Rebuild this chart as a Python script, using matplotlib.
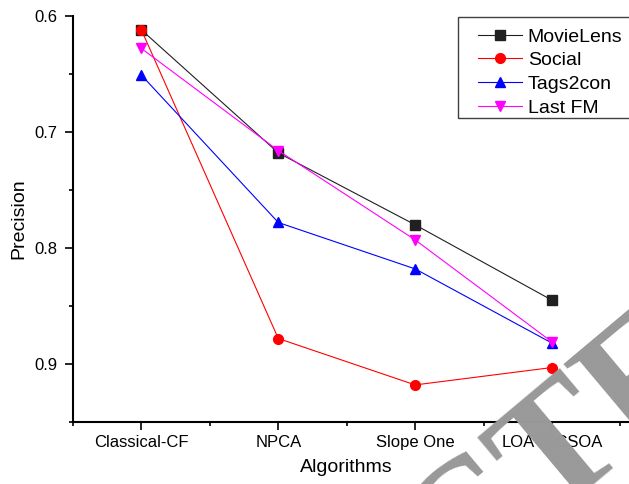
import matplotlib.pyplot as plt
from matplotlib.patches import Rectangle
from matplotlib.ticker import FixedLocator, MultipleLocator

plt.rcParams['font.family'] = ['Liberation Sans', 'DejaVu Sans']

algorithms = ['Classical-CF', 'NPCA', 'Slope One', 'LOA-ISCSOA']
movielens = [0.612, 0.718, 0.780, 0.845]
social = [0.612, 0.878, 0.918, 0.903]
tags2con = [0.651, 0.778, 0.818, 0.882]
last_fm = [0.628, 0.716, 0.793, 0.881]

series = [
    ('MovieLens', movielens, '#202020', 's'),
    ('Social', social, '#ff0000', 'o'),
    ('Tags2con', tags2con, '#0000ff', '^'),
    ('Last FM', last_fm, '#ff00ff', 'v'),
]

W, H = 629, 484


def precision_plot():
    fig = plt.figure(figsize=(W / 100, H / 100), dpi=100)
    ax = fig.add_axes([0.116, 0.128, 0.914, 0.839])

    x = list(range(1, len(algorithms) + 1))
    for name, vals, color, marker in series:
        ax.plot(x, vals, color=color, lw=0.8, marker=marker, ms=7,
                markerfacecolor=color, markeredgecolor=color, label=name)

    ax.set_xlim(0.5, 4.7)
    ax.set_ylim(0.95, 0.6)

    ax.xaxis.set_major_locator(FixedLocator(x))
    ax.set_xticklabels(algorithms)
    ax.xaxis.set_minor_locator(FixedLocator([0.5, 1.5, 2.5, 3.5, 4.5]))
    ax.yaxis.set_major_locator(MultipleLocator(0.1))
    ax.yaxis.set_minor_locator(MultipleLocator(0.05))
    ax.yaxis.set_major_formatter(plt.FormatStrFormatter('%.1f'))

    ax.tick_params(which='major', direction='out', length=6, width=1.2,
                   labelsize=12)
    ax.tick_params(which='minor', direction='out', length=3, width=1.2)
    ax.tick_params(axis='y', pad=5)
    ax.tick_params(axis='x', pad=3)

    for side in ('top', 'right'):
        ax.spines[side].set_visible(False)
    for side in ('left', 'bottom'):
        ax.spines[side].set_linewidth(1.5)

    ax.set_xlabel('Algorithms', fontsize=14)
    ax.set_ylabel('Precision', fontsize=14)
    ax.xaxis.set_label_coords(0.475, -0.09)
    ax.yaxis.set_label_coords(-0.08, 0.5)

    # legend without its own frame; the box is drawn separately so it can run off the edge
    fig.legend(loc='upper left', bbox_to_anchor=(478 / W, 1 - 28 / H),
               fontsize=14, frameon=False, borderaxespad=0, borderpad=0,
               handlelength=2.26, handletextpad=0.3, labelspacing=0.31)
    fig.add_artist(Rectangle((458 / W, 1 - 118 / H), 190 / W, 101 / H,
                             transform=fig.transFigure, fill=False,
                             edgecolor='#404040', lw=1.0, clip_on=False))

    fig.text(813 / W, 1 - 297 / H, 'RETRACTED', fontsize=122,
             family='Liberation Serif', weight='bold', color='#999999',
             rotation=40, rotation_mode='anchor', ha='right', va='baseline',
             zorder=10)

    fig.savefig('out.png', dpi=100)


if __name__ == '__main__':
    precision_plot()
